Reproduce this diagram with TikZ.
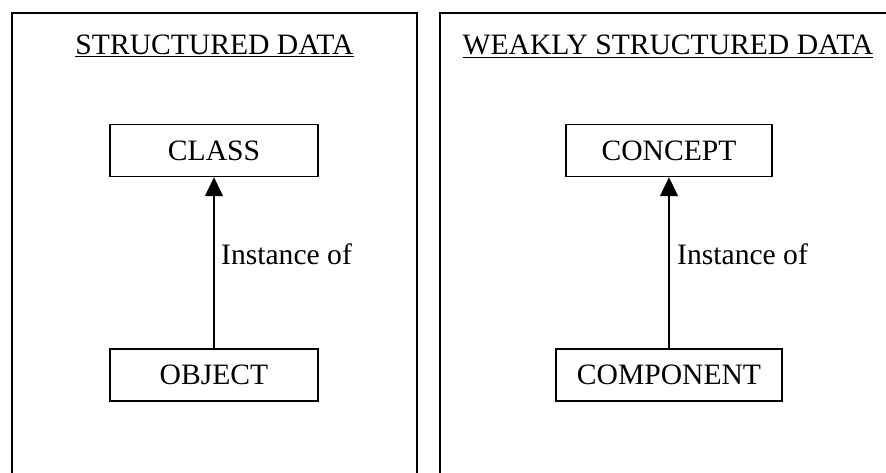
\documentclass[tikz,border=0pt]{standalone}
\usepackage{fontspec}
\setmainfont{Liberation Serif}
\usetikzlibrary{arrows.meta}
\begin{document}
\begin{tikzpicture}[x=1pt,y=-1pt,
  txt/.style={font=\fontsize{29.6}{34}\selectfont},
  panel/.style={draw,line width=1.6pt,minimum height=600pt,inner sep=0pt},
  heading/.style={txt,anchor=base,inner sep=0pt},
  entity/.style={txt,draw,line width=1.5pt,minimum height=52pt,inner sep=0pt},
  rel/.style={line width=1.5pt,-{Triangle[width=18pt,length=19pt]}},
  rellabel/.style={txt,anchor=base west,inner sep=0pt}]
\useasboundingbox (0,0) rectangle (886,473);
\clip (0,0) rectangle (886,473);

% the two panels (open at the bottom, the right one runs off the edge)
\node[panel,minimum width=405pt] (left) at (214.5,313) {};
\node[panel,minimum width=456pt] (right) at (668,313) {};

% headings
\node[heading] (titleA) at (214.5,55) {\underline{STRUCTURED DATA}};
\node[heading] (titleB) at (668,55) {\underline{WEAKLY STRUCTURED DATA}};

% structured side
\node[entity,minimum width=208pt] (class) at (214,150.5) {CLASS};
\node[entity,minimum width=208pt] (object) at (214,375) {OBJECT};
\draw[rel] (object.north) -- (class.south);
\node[rellabel] (instA) at (221,264) {Instance of};

% weakly structured side
\node[entity,minimum width=206pt] (concept) at (669,150.5) {CONCEPT};
\node[entity,minimum width=226pt] (component) at (669,375) {COMPONENT};
\draw[rel] (component.north) -- (concept.south);
\node[rellabel] (instB) at (677,264) {Instance of};
\end{tikzpicture}
\end{document}
